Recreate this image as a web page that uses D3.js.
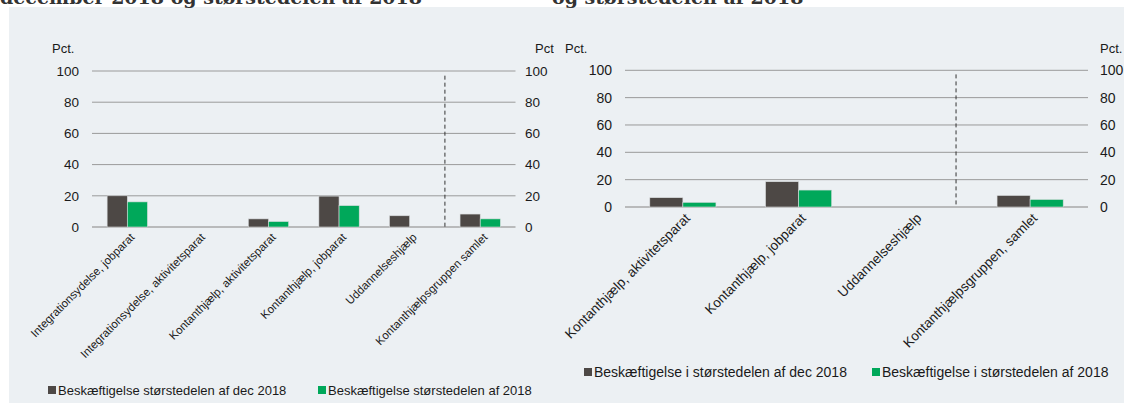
<!DOCTYPE html>
<html>
<head>
<meta charset="utf-8">
<script src="https://cdn.jsdelivr.net/npm/d3@7"></script>
<style>
  body { margin: 0; background: #fff; }
  text { font-family: "Liberation Sans", Arial, sans-serif; fill: #1a1a1a; }
  .title { font-family: "DejaVu Serif", Georgia, serif; font-weight: bold; font-size: 19px; fill: #333; }
</style>
</head>
<body>
<div id="chart"></div>
<script>
// data
var leftCats = ["Integrationsydelse, jobparat", "Integrationsydelse, aktivitetsparat",
  "Kontanthjælp, aktivitetsparat", "Kontanthjælp, jobparat", "Uddannelseshjælp",
  "Kontanthjælpsgruppen samlet"];
var leftDec = [20, 0, 5.2, 19.8, 7.2, 8.3];
var left2018 = [16.1, 0, 3.5, 13.7, 0, 5.2];
var leftSeries = ["Beskæftigelse størstedelen af dec 2018", "Beskæftigelse størstedelen af 2018"];

var rightCats = ["Kontanthjælp, aktivitetsparat", "Kontanthjælp, jobparat",
  "Uddannelseshjælp", "Kontanthjælpsgruppen, samlet"];
var rightDec = [6.8, 18.5, 0, 8.4];
var right2018 = [3.4, 12.4, 0, 5.5];
var rightSeries = ["Beskæftigelse i størstedelen af dec 2018", "Beskæftigelse i størstedelen af 2018"];

var yTicks = [0, 20, 40, 60, 80, 100];
var unit = "Pct.";

var svgWidth = 1124;
var svgHeight = 403;
var colors = ["#4d4845", "#00a85a"];

var svg = d3.select("#chart")
  .append("svg")
  .attr("width", svgWidth)
  .attr("height", svgHeight);

svg.append("rect")
  .attr("x", 9).attr("y", 7)
  .attr("width", svgWidth - 9).attr("height", svgHeight - 7)
  .attr("fill", "#ecf0f3");

svg.append("text").attr("class", "title").attr("x", 0).attr("y", 4)
  .text("december 2018 og størstedelen af 2018");
svg.append("text").attr("class", "title").attr("x", 552).attr("y", 4)
  .text("og størstedelen af 2018");

function drawPanel(opt) {
  var clipId = "clip" + opt.id;
  svg.append("clipPath").attr("id", clipId)
    .append("rect")
    .attr("x", opt.clip[0]).attr("y", 0)
    .attr("width", opt.clip[1] - opt.clip[0]).attr("height", svgHeight);

  var g = svg.append("g").attr("clip-path", "url(#" + clipId + ")");

  var x = d3.scaleBand().domain(opt.cats).range(opt.xr).paddingInner(0).paddingOuter(0);
  var xSub = d3.scaleBand().domain([0, 1]).range([0, x.bandwidth()]).paddingInner(0).paddingOuter(0.75);
  var y = d3.scaleLinear().domain([0, 100]).range(opt.yr);

  // gridlines
  g.selectAll("line.grid")
    .data(yTicks)
    .enter()
    .append("line")
    .attr("x1", opt.xr[0]).attr("x2", opt.xr[1])
    .attr("y1", d => y(d)).attr("y2", d => y(d))
    .attr("stroke", d => d === 0 ? "#a8a8a8" : "#9a9a9a")
    .attr("stroke-width", d => d === 0 ? 1.5 : 1);

  // left and right value axes
  var leftAxis = d3.axisLeft(y).tickValues(yTicks).tickSize(0).tickPadding(0);
  var rightAxis = d3.axisRight(y).tickValues(yTicks).tickSize(0).tickPadding(0);
  var la = g.append("g").attr("transform", `translate(${opt.leftLab},0)`).call(leftAxis);
  var ra = g.append("g").attr("transform", `translate(${opt.rightLab},0)`).call(rightAxis);
  [la, ra].forEach(function(a) {
    a.select(".domain").remove();
    a.selectAll("text").style("font-size", opt.tickSize + "px").style("font-family", null).attr("fill", "#1a1a1a");
  });

  g.append("text").attr("x", opt.unitX[0]).attr("y", 53).style("font-size", "13px").text(unit);
  g.append("text").attr("x", opt.unitX[1]).attr("y", 53).style("font-size", "13px").text(unit);

  // dashed separator
  var sepX = x(opt.cats[opt.sepIndex]) - x.step() * opt.sepShift;
  g.append("line")
    .attr("x1", sepX).attr("x2", sepX)
    .attr("y1", y(97)).attr("y2", y(0))
    .attr("stroke", "#333").attr("stroke-width", 1)
    .attr("stroke-dasharray", "4,3");

  // bars
  var rows = opt.cats.map((c, i) => ({cat: c, vals: [opt.dec[i], opt.y18[i]]}));
  var gbars = g.selectAll("g.grp")
    .data(rows)
    .enter()
    .append("g")
    .attr("transform", d => `translate(${x(d.cat)},0)`);
  gbars.selectAll("rect")
    .data(d => d.vals.map((v, k) => ({k: k, v: v})))
    .enter()
    .append("rect")
    .filter(d => d.v > 0)
    .attr("x", d => xSub(d.k))
    .attr("width", xSub.bandwidth())
    .attr("y", d => y(d.v))
    .attr("height", d => y(0) - y(d.v))
    .attr("fill", d => colors[d.k])
    .attr("stroke", "#d9dcde")
    .attr("stroke-width", 0.6);

  // category labels
  g.selectAll("text.cat")
    .data(opt.cats)
    .enter()
    .append("text")
    .attr("text-anchor", "end")
    .style("font-size", opt.catSize + "px")
    .attr("transform", d => `translate(${x(d) + x.bandwidth() / 2 + opt.catDx},${y(0) + opt.catDy}) rotate(-45)`)
    .text(d => d);

  // legend
  var leg = g.append("g");
  opt.series.forEach(function(s, k) {
    leg.append("rect")
      .attr("x", opt.legX[k]).attr("y", opt.legY - 4)
      .attr("width", 8).attr("height", 8)
      .attr("fill", colors[k]);
    leg.append("text")
      .attr("x", opt.legX[k] + 10).attr("y", opt.legY + 5)
      .style("font-size", opt.legSize + "px")
      .text(s);
  });
}

drawPanel({
  id: "L", clip: [0, 554],
  cats: leftCats, dec: leftDec, y18: left2018, series: leftSeries,
  xr: [92, 515.5], yr: [227, 71],
  leftLab: 79, rightLab: 525, unitX: [52, 535], tickSize: 13.5,
  sepIndex: 5, sepShift: 0,
  catSize: 11.5, catDx: 8, catDy: 11,
  legX: [48, 318], legY: 390, legSize: 13
});

drawPanel({
  id: "R", clip: [554, svgWidth],
  cats: rightCats, dec: rightDec, y18: right2018, series: rightSeries,
  xr: [625, 1088], yr: [207, 70.3],
  leftLab: 612, rightLab: 1100, unitX: [565, 1100], tickSize: 14,
  sepIndex: 3, sepShift: 0.14,
  catSize: 13.5, catDx: 8, catDy: 12,
  legX: [584, 872], legY: 372, legSize: 14
});
</script>
</body>
</html>
